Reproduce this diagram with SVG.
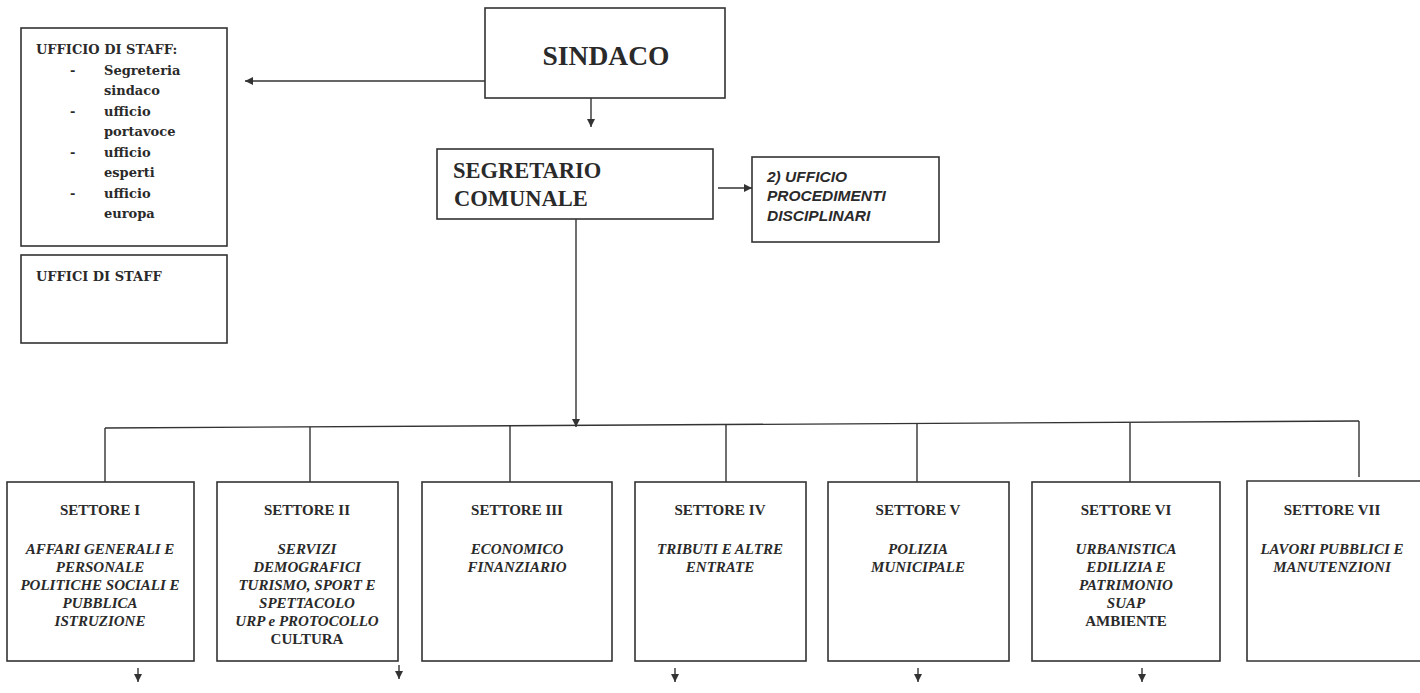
<svg xmlns="http://www.w3.org/2000/svg" width="1420" height="693" viewBox="0 0 1420 693">
<style>
.box{fill:#fff;stroke:#333;stroke-width:1.6}
.ln{fill:none;stroke:#333;stroke-width:1.4}
.t{font-family:"Liberation Serif","Times New Roman",serif;fill:#2a2a2a}
.b{font-weight:bold}
.tt{font-family:"Liberation Serif",serif;font-weight:bold;font-size:15px;fill:#2a2a2a;text-anchor:middle}
.it{font-style:italic}
.st{font-family:"DejaVu Serif",serif;font-weight:bold;font-size:13px;fill:#2a2a2a}
.upd{font-family:"Liberation Sans",Arial,sans-serif;font-weight:bold;font-style:italic;font-size:15.5px;fill:#2a2a2a}
</style>
<defs>
<marker id="ah" viewBox="0 0 10 10" refX="10" refY="5" markerWidth="8" markerHeight="8" markerUnits="userSpaceOnUse" orient="auto">
<path d="M0,0 L10,5 L0,10 z" fill="#333"/>
</marker>
</defs>
<rect width="1420" height="693" fill="#fff"/>

<g id="connectors">
<line class="ln" x1="485" y1="81" x2="245" y2="81" marker-end="url(#ah)"/>
<line class="ln" x1="591" y1="98" x2="591" y2="127" marker-end="url(#ah)"/>
<line class="ln" x1="718" y1="188" x2="752" y2="188" marker-end="url(#ah)"/>
<line class="ln" x1="576" y1="219" x2="576" y2="427" marker-end="url(#ah)"/>
<path class="ln" d="M105,428 L1359,421"/>
<line class="ln" x1="105" y1="428" x2="105" y2="482"/>
<line class="ln" x1="310" y1="427" x2="310" y2="482"/>
<line class="ln" x1="510" y1="426" x2="510" y2="482"/>
<line class="ln" x1="726" y1="425" x2="726" y2="482"/>
<line class="ln" x1="917" y1="424" x2="917" y2="482"/>
<line class="ln" x1="1130" y1="423" x2="1130" y2="482"/>
<line class="ln" x1="1359" y1="421" x2="1359" y2="477"/>
<line class="ln" x1="138" y1="668" x2="138" y2="682" marker-end="url(#ah)"/>
<line class="ln" x1="399" y1="665" x2="399" y2="679" marker-end="url(#ah)"/>
<line class="ln" x1="675" y1="668" x2="675" y2="682" marker-end="url(#ah)"/>
<line class="ln" x1="918" y1="668" x2="918" y2="682" marker-end="url(#ah)"/>
<line class="ln" x1="1142" y1="668" x2="1142" y2="682" marker-end="url(#ah)"/>
</g>

<g id="staff1">
<rect class="box" x="21" y="28" width="206" height="218"/>
<text class="st" x="36" y="54">UFFICIO DI STAFF:</text>
<text class="st" x="70" y="74.5">-</text>
<text class="st" x="104" y="74.5">Segreteria</text>
<text class="st" x="104" y="95">sindaco</text>
<text class="st" x="70" y="115.5">-</text>
<text class="st" x="104" y="115.5">ufficio</text>
<text class="st" x="104" y="136">portavoce</text>
<text class="st" x="70" y="156.5">-</text>
<text class="st" x="104" y="156.5">ufficio</text>
<text class="st" x="104" y="177">esperti</text>
<text class="st" x="70" y="197.5">-</text>
<text class="st" x="104" y="197.5">ufficio</text>
<text class="st" x="104" y="218">europa</text>
</g>

<g id="staff2">
<rect class="box" x="21" y="255" width="206" height="88"/>
<text class="st" x="36" y="281">UFFICI DI STAFF</text>
</g>

<g id="sindaco">
<rect class="box" x="485" y="8" width="240" height="90"/>
<text class="t b" x="606" y="65" font-size="27.5" text-anchor="middle">SINDACO</text>
</g>

<g id="segretario">
<rect class="box" x="437" y="149" width="276" height="70"/>
<text class="t b" x="453" y="178" font-size="22.5">SEGRETARIO</text>
<text class="t b" x="454" y="206" font-size="22.5">COMUNALE</text>
</g>

<g id="upd">
<rect class="box" x="752" y="157" width="187" height="85"/>
<text class="upd" x="767" y="182">2) UFFICIO</text>
<text class="upd" x="767" y="201">PROCEDIMENTI</text>
<text class="upd" x="767" y="221">DISCIPLINARI</text>
</g>

<g id="settore1">
<rect class="box" x="7" y="482" width="187" height="179"/>
<text class="tt" x="100" y="515">SETTORE I</text>
<text class="tt it" x="100" y="554">AFFARI GENERALI E</text>
<text class="tt it" x="100" y="572">PERSONALE</text>
<text class="tt it" x="100" y="590">POLITICHE SOCIALI E</text>
<text class="tt it" x="100" y="608">PUBBLICA</text>
<text class="tt it" x="100" y="626">ISTRUZIONE</text>
</g>

<g id="settore2">
<rect class="box" x="217" y="482" width="181" height="179"/>
<text class="tt" x="307" y="515">SETTORE II</text>
<text class="tt it" x="307" y="554">SERVIZI</text>
<text class="tt it" x="307" y="572">DEMOGRAFICI</text>
<text class="tt it" x="307" y="590">TURISMO, SPORT E</text>
<text class="tt it" x="307" y="608">SPETTACOLO</text>
<text class="tt it" x="307" y="626">URP e PROTOCOLLO</text>
<text class="tt" x="307" y="644">CULTURA</text>
</g>

<g id="settore3">
<rect class="box" x="422" y="482" width="190" height="179"/>
<text class="tt" x="517" y="515">SETTORE III</text>
<text class="tt it" x="517" y="554">ECONOMICO</text>
<text class="tt it" x="517" y="572">FINANZIARIO</text>
</g>

<g id="settore4">
<rect class="box" x="635" y="482" width="171" height="179"/>
<text class="tt" x="720" y="515">SETTORE IV</text>
<text class="tt it" x="720" y="554">TRIBUTI E ALTRE</text>
<text class="tt it" x="720" y="572">ENTRATE</text>
</g>

<g id="settore5">
<rect class="box" x="828" y="482" width="181" height="179"/>
<text class="tt" x="918" y="515">SETTORE V</text>
<text class="tt it" x="918" y="554">POLIZIA</text>
<text class="tt it" x="918" y="572">MUNICIPALE</text>
</g>

<g id="settore6">
<rect class="box" x="1032" y="482" width="188" height="179"/>
<text class="tt" x="1126" y="515">SETTORE VI</text>
<text class="tt it" x="1126" y="554">URBANISTICA</text>
<text class="tt it" x="1126" y="572">EDILIZIA E</text>
<text class="tt it" x="1126" y="590">PATRIMONIO</text>
<text class="tt it" x="1126" y="608">SUAP</text>
<text class="tt" x="1126" y="626">AMBIENTE</text>
</g>

<g id="settore7">
<path class="box" d="M1422,481 L1247,481 L1247,661 L1422,661"/>
<text class="tt" x="1332" y="515">SETTORE VII</text>
<text class="tt it" x="1332" y="554">LAVORI PUBBLICI E</text>
<text class="tt it" x="1332" y="572">MANUTENZIONI</text>
</g>
</svg>
